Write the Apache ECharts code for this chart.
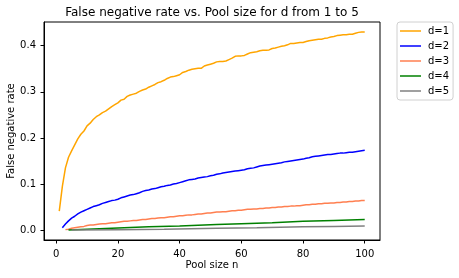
<!DOCTYPE html>
<html>
<head>
<meta charset="utf-8">
<script src="https://cdn.jsdelivr.net/npm/echarts@6/dist/echarts.min.js"></script>
<style>html,body{margin:0;padding:0;background:#fff}#c{width:459px;height:278px}</style>
</head>
<body>
<div id="c"></div>
<script>
var titleText = 'False negative rate vs. Pool size for d from 1 to 5';
var xName = 'Pool size n';
var yName = 'False negative rate';
var seriesNames = ['d=1', 'd=2', 'd=3', 'd=4', 'd=5'];
var colors = ['#FFA500', '#0000FF', '#FF7F50', '#008000', '#808080'];
var xTicks = [0, 20, 40, 60, 80, 100];
var yTicks = [0.0, 0.1, 0.2, 0.3, 0.4];

// d=1, n = 1..100
var d1Start = 1;
var d1 = [0.041,0.095,0.135,0.158,0.172,0.185,0.198,0.208,0.215,0.226,
0.232,0.240,0.246,0.250,0.255,0.258,0.263,0.268,0.272,0.276,
0.282,0.284,0.290,0.293,0.295,0.297,0.301,0.304,0.306,0.310,
0.313,0.316,0.320,0.322,0.325,0.329,0.332,0.333,0.335,0.337,
0.342,0.344,0.347,0.349,0.350,0.351,0.351,0.356,0.358,0.360,
0.362,0.365,0.366,0.366,0.367,0.370,0.373,0.377,0.378,0.378,
0.379,0.382,0.385,0.386,0.387,0.389,0.390,0.390,0.391,0.394,
0.395,0.397,0.399,0.400,0.402,0.405,0.405,0.406,0.407,0.407,
0.409,0.411,0.412,0.413,0.414,0.414,0.416,0.417,0.419,0.420,
0.422,0.423,0.424,0.424,0.425,0.425,0.427,0.429,0.430,0.430];

// d=2, n = 2..100
var d2Start = 2;
var d2 = [0.005,0.013,0.020,0.026,0.030,0.035,0.039,0.042,0.045,
0.048,0.051,0.053,0.055,0.058,0.060,0.062,0.064,0.065,0.067,
0.070,0.072,0.074,0.076,0.077,0.079,0.081,0.084,0.086,0.087,
0.089,0.090,0.092,0.094,0.095,0.097,0.098,0.100,0.101,0.103,
0.105,0.107,0.109,0.110,0.111,0.113,0.114,0.115,0.116,0.118,
0.119,0.121,0.122,0.124,0.125,0.126,0.127,0.128,0.129,0.130,
0.131,0.133,0.134,0.135,0.137,0.139,0.140,0.141,0.142,0.143,
0.144,0.145,0.146,0.148,0.149,0.150,0.151,0.152,0.153,0.154,
0.156,0.157,0.159,0.160,0.161,0.162,0.163,0.164,0.164,0.165,
0.166,0.167,0.167,0.168,0.169,0.169,0.170,0.171,0.172,0.173];

// d=3, n = 3..100
var d3Start = 3;
var d3 = [0.001,0.002,0.004,0.005,0.006,0.007,0.008,0.010,
0.011,0.011,0.012,0.013,0.014,0.014,0.015,0.016,0.016,0.017,
0.018,0.019,0.019,0.020,0.021,0.021,0.022,0.023,0.023,0.024,
0.025,0.025,0.026,0.027,0.027,0.028,0.029,0.029,0.030,0.031,
0.031,0.032,0.033,0.033,0.034,0.035,0.035,0.036,0.037,0.037,
0.038,0.039,0.039,0.040,0.040,0.041,0.042,0.042,0.043,0.043,
0.044,0.045,0.045,0.046,0.046,0.047,0.047,0.048,0.048,0.049,
0.049,0.050,0.050,0.051,0.051,0.052,0.052,0.053,0.053,0.054,
0.055,0.055,0.056,0.056,0.057,0.057,0.058,0.058,0.059,0.059,
0.060,0.060,0.061,0.061,0.062,0.062,0.063,0.063,0.064,0.064];

// d=4 and d=5 (pool size, rate)
var d4N = [4, 10, 22, 30, 40, 52, 60, 70, 80, 90, 100];
var d4V = [0.000, 0.002, 0.005, 0.007, 0.009, 0.012, 0.014, 0.016, 0.019, 0.021, 0.023];
var d5N = [5, 20, 35, 52, 65, 80, 90, 100];
var d5V = [0.000, 0.001, 0.002, 0.004, 0.005, 0.007, 0.008, 0.009];

function fromStart(start, vals) { return vals.map(function (v, i) { return [start + i, v]; }); }
function fromPairs(ns, vs) { return ns.map(function (n, i) { return [n, vs[i]]; }); }

var allData = [fromStart(d1Start, d1), fromStart(d2Start, d2), fromStart(d3Start, d3), fromPairs(d4N, d4V), fromPairs(d5N, d5V)];

var FONT = 'DejaVu Sans';
var chart = echarts.init(document.getElementById('c'), null, { renderer: 'canvas' });

var GL = 44, GT = 22, GW = 336, GH = 218;
var lineIcon = 'path://M0,0 M21,10 M0,4.25 L21,4.25 L21,5.75 L0,5.75 Z';

chart.setOption({
  animation: false,
  backgroundColor: '#fff',
  textStyle: { fontFamily: FONT },
  grid: { left: GL, top: GT, width: GW, height: GH, show: true, borderColor: '#000', borderWidth: 1, backgroundColor: 'transparent' },
  legend: {
    orient: 'vertical', left: 397, top: 22,
    padding: [4, 4, 4, 3],
    itemWidth: 21, itemHeight: 10, itemGap: 5,
    borderColor: '#d0d0d0', borderWidth: 1, borderRadius: 3,
    backgroundColor: '#fff',
    textStyle: { fontFamily: FONT, fontSize: 10, color: '#000', padding: [0, 0, 0, 2] },
    data: seriesNames.map(function (n) { return { name: n, icon: lineIcon }; })
  },
  xAxis: {
    type: 'value', min: -3.95, max: 104.95,
    splitLine: { show: false },
    axisLine: { show: true, onZero: false, lineStyle: { color: '#000', width: 1 } },
    axisTick: { show: true, length: 3.5, lineStyle: { color: '#000', width: 1 }, customValues: xTicks },
    axisLabel: { fontFamily: FONT, fontSize: 10, color: '#000', margin: 9, customValues: xTicks, formatter: function (v) { return String(v); } }
  },
  yAxis: {
    type: 'value', min: -0.0215, max: 0.4515,
    splitLine: { show: false },
    axisLine: { show: true, onZero: false, lineStyle: { color: '#000', width: 1 } },
    axisTick: { show: true, length: 3.5, lineStyle: { color: '#000', width: 1 }, customValues: yTicks },
    axisLabel: { fontFamily: FONT, fontSize: 10, color: '#000', margin: 8, customValues: yTicks, formatter: function (v) { return v.toFixed(1); } }
  },
  graphic: [
    { type: 'text', x: 212, y: 12.5, style: { text: titleText, font: '12px "DejaVu Sans"', fill: '#000', textAlign: 'center', textVerticalAlign: 'middle' } },
    { type: 'text', x: 212, y: 265.5, style: { text: xName, font: '10px "DejaVu Sans"', fill: '#000', textAlign: 'center', textVerticalAlign: 'middle' } },
    { type: 'text', x: 11, y: 131, rotation: Math.PI / 2, style: { text: yName, font: '10px "DejaVu Sans"', fill: '#000', textAlign: 'center', textVerticalAlign: 'middle' } }
  ],
  series: seriesNames.map(function (name, i) {
    return {
      name: name, type: 'line', data: allData[i],
      symbol: 'none', showSymbol: false,
      lineStyle: { color: colors[i], width: 1.5 },
      itemStyle: { color: colors[i] },
      emphasis: { disabled: true }
    };
  })
});
</script>
</body>
</html>
